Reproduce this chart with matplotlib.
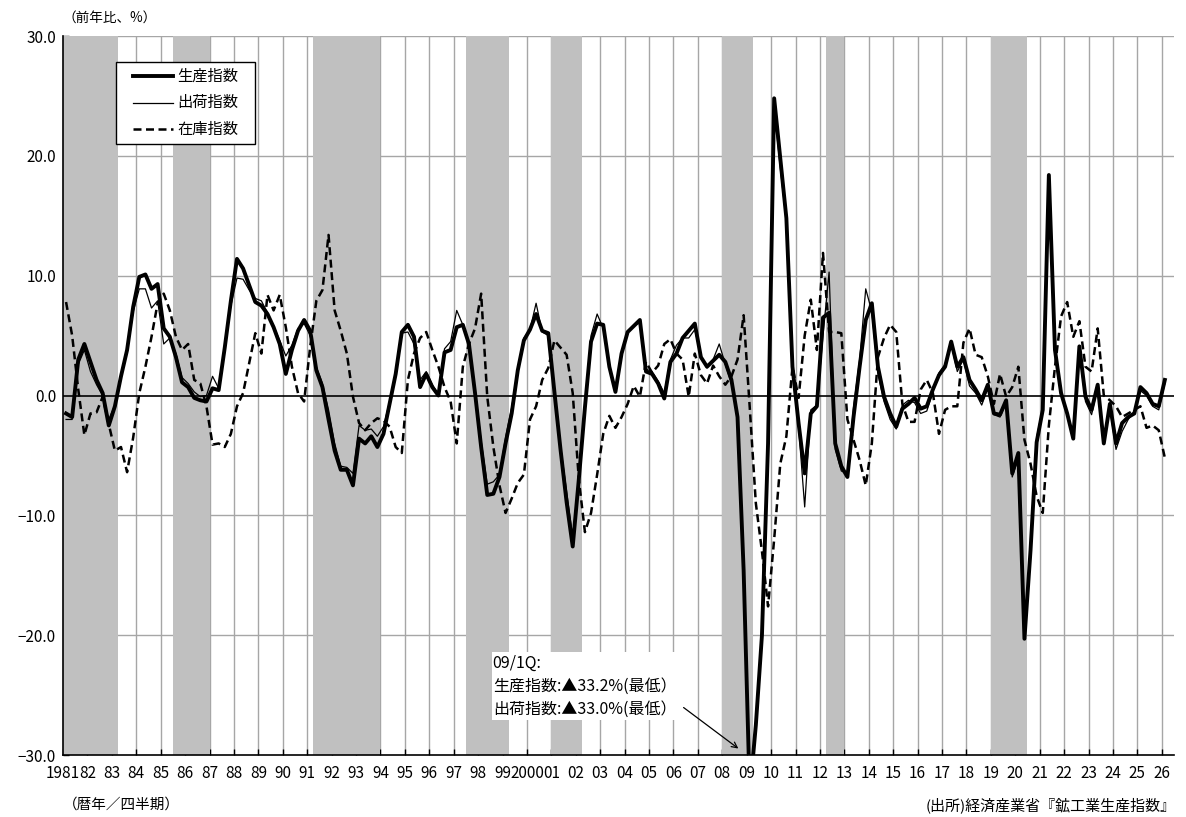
import numpy as np
import matplotlib
matplotlib.use("Agg")
import matplotlib.pyplot as plt
from matplotlib.lines import Line2D
from matplotlib.patches import Rectangle

plt.rcParams['font.family'] = ['Noto Sans CJK JP', 'DejaVu Sans']

# 前年比(%) 四半期 1981/1Q ～ 2026/1Q
prod = [-1.5, -1.8, 3.0, 4.3, 2.8, 1.3, 0.2, -2.5, -0.9, 1.6, 3.8, 7.4, 9.9, 10.1, 8.9, 9.3,
        5.6, 4.9, 3.2, 1.1, 0.7, -0.2, -0.4, -0.5, 0.6, 0.45, 4.0, 7.9, 11.4, 10.6, 9.2, 7.8,
        7.5, 6.8, 5.7, 4.3, 1.8, 3.8, 5.4, 6.3, 5.4, 2.1, 0.7, -2.0, -4.6, -6.2, -6.2, -7.5,
        -3.6, -4.0, -3.4, -4.3, -3.2, -0.7, 1.8, 5.3, 5.9, 4.9, 0.7, 1.8, 0.7, 0.0, 3.6, 3.8,
        5.7, 5.9, 4.3, 0.2, -4.3, -8.3, -8.2, -6.8, -4.0, -1.5, 2.1, 4.6, 5.5, 6.8, 5.4, 5.2,
        0.3, -4.5, -8.9, -12.6, -7.0, -1.0, 4.5, 6.0, 5.9, 2.4, 0.3, 3.5, 5.3, 5.8, 6.3, 2.0,
        1.8, 1.0, -0.25, 2.8, 3.5, 4.8, 5.4, 6.0, 3.2, 2.4, 2.9, 3.4, 2.8, 1.3, -1.8, -14.6,
        -33.2, -27.5, -20.0, -4.0, 24.8, 19.8, 14.8, 2.4, -2.3, -6.5, -1.5, -0.9, 6.5, 6.9, -4.0, -5.9,
        -6.8, -1.8, 2.4, 6.3, 7.7, 2.4, -0.1, -1.5, -2.6, -1.1, -0.7, -0.2, -1.1, -0.9, 0.5, 1.7,
        2.4, 4.5, 2.4, 3.2, 1.3, 0.5, -0.4, 0.9, -1.5, -1.6, -0.4, -6.5, -4.8, -20.3, -12.9, -3.9,
        -1.2, 18.4, 3.8, 0.2, -1.5, -3.6, 4.1, -0.1, -1.2, 0.9, -4.0, -0.7, -4.0, -2.3, -1.8, -1.5,
        0.7, 0.2, -0.7, -0.9, 1.3]

ship = [-2.0, -2.0, 2.6, 3.8, 2.0, 0.9, 0.0, -2.0, -0.8, 1.5, 3.6, 7.0, 8.9, 8.9, 7.3, 7.9,
        4.3, 4.8, 3.5, 1.5, 1.0, 0.3, -0.1, 0.0, 1.6, 0.6, 4.0, 7.5, 9.8, 9.7, 8.8, 8.1,
        7.9, 6.9, 5.8, 4.6, 3.3, 4.2, 5.6, 6.0, 5.0, 2.4, 1.0, -1.2, -4.0, -5.9, -6.0, -6.5,
        -2.5, -2.9, -2.8, -3.4, -2.6, -0.5, 2.0, 5.2, 5.3, 4.3, 1.3, 2.0, 0.9, 0.1, 3.9, 4.5,
        7.1, 5.9, 4.3, 0.5, -3.8, -7.4, -7.2, -6.6, -3.5, -1.0, 2.2, 4.8, 5.5, 7.7, 5.3, 5.0,
        0.5, -4.2, -8.0, -11.8, -7.0, -1.0, 5.0, 6.8, 5.6, 2.4, 0.6, 3.6, 5.3, 5.8, 6.1, 2.2,
        2.0, 1.2, 0.2, 3.0, 4.2, 4.8, 4.8, 5.5, 3.3, 2.3, 3.0, 4.3, 2.6, 1.0, -1.9, -14.4,
        -33.0, -27.0, -19.5, -4.5, 24.0, 19.0, 14.5, 2.6, -2.6, -9.3, -1.2, -0.8, 5.0, 10.3, -4.5, -6.3,
        -6.5, -1.0, 3.0, 8.9, 7.0, 1.8, -0.5, -2.0, -2.8, -0.8, -0.4, -0.6, -1.5, -1.3, 0.3, 1.9,
        2.6, 4.3, 2.0, 3.0, 0.8, 0.2, -0.8, 0.6, -1.6, -1.8, -0.6, -6.8, -5.2, -19.7, -12.5, -3.5,
        -1.0, 17.5, 3.6, 0.0, -1.6, -3.3, 3.6, -0.5, -1.6, 0.7, -3.8, -1.1, -4.5, -3.0, -2.0, -1.3,
        0.4, 0.0, -0.9, -1.2, 1.0]

inv = [7.8, 5.0, 0.5, -3.3, -1.5, -1.4, -0.1, -2.4, -4.6, -4.3, -6.4, -3.5, 0.2, 2.4, 4.9, 7.7,
       8.5, 7.1, 4.9, 3.8, 4.3, 1.3, 1.0, -0.9, -4.1, -4.0, -4.3, -3.2, -0.9, 0.2, 2.7, 5.2,
       3.5, 8.4, 7.1, 8.4, 5.7, 2.4, 0.2, -0.5, 4.1, 7.9, 8.8, 13.4, 7.1, 5.4, 3.5, -0.1,
       -2.3, -2.9, -2.3, -1.9, -2.1, -2.6, -4.3, -4.8, 1.3, 3.5, 4.8, 5.3, 3.8, 2.4, 0.7, -0.5,
       -4.0, 2.4, 4.3, 5.6, 8.5, -0.1, -4.3, -7.5, -9.8, -8.6, -7.3, -6.6, -2.0, -0.9, 1.3, 2.3,
       4.6, 4.0, 3.4, 0.2, -7.0, -11.4, -9.8, -6.6, -3.2, -1.7, -2.7, -1.8, -0.7, 0.8, -0.1, 2.8,
       1.9, 2.5, 4.3, 4.7, 3.5, 3.0, -0.1, 3.5, 1.7, 1.0, 2.5, 1.6, 0.9, 1.6, 3.0, 6.7,
       -1.0, -9.0, -13.0, -17.6, -12.0, -5.7, -3.4, 2.4, -0.2, 5.0, 8.0, 3.8, 11.9, 5.3, 5.3, 5.2,
       -2.0, -3.7, -5.4, -7.5, -4.0, 3.2, 4.8, 5.9, 5.3, -0.7, -2.2, -2.2, 0.5, 1.3, 0.2, -3.2,
       -1.2, -0.9, -0.9, 4.4, 5.6, 3.4, 3.2, 1.6, -0.7, 1.8, -0.1, 0.7, 2.4, -3.7, -5.7, -8.4,
       -9.8, -2.5, 2.4, 6.6, 7.8, 4.9, 6.2, 2.4, 2.0, 5.6, 0.0, -0.4, -0.9, -1.8, -1.5, -1.2,
       -0.9, -2.7, -2.5, -2.9, -5.2]

# 景気後退期 (四半期の通し番号, 開始・終了)
recessions = [(0, 8), (18, 23), (41, 51), (66, 72), (80, 84), (108, 112), (125, 127), (152, 157)]

years = list(range(1981, 2027))
year_labels = [str(y) if y in (1981, 2000) else str(y)[2:] for y in years]

series_names = ['生産指数', '出荷指数', '在庫指数']

q = np.arange(len(prod))

fig = plt.figure(figsize=(11.86, 8.17), dpi=100)
ax = fig.add_axes([63 / 1186, 1 - 755 / 817, (1174 - 63) / 1186, (755 - 36) / 817])

ax.set_xlim(-0.5, 181.5)
ax.set_ylim(-30, 30)

grid_c = '#a6a6a6'
for k in range(len(years)):
    ax.axvline(4 * k - 0.5, color=grid_c, lw=1.0, zorder=1)
for v in (-20, -10, 10, 20, 30):
    ax.axhline(v, color=grid_c, lw=1.0, zorder=1)

for a, b in recessions:
    ax.axvspan(a - 0.5, b + 0.5, color='#c0c0c0', lw=0, zorder=2)

ax.axhline(0, color='black', lw=1.2, zorder=3)

dash = (0, (3.2, 1.8))
styles = [dict(lw=2.8), dict(lw=0.9), dict(lw=1.8, ls=dash)]
ax.plot(q, inv, color='black', zorder=4, **styles[2])
ax.plot(q, ship, color='black', zorder=5, **styles[1])
ax.plot(q, prod, color='black', zorder=6, **styles[0])

yt = np.arange(-30, 31, 10)
ax.set_yticks(yt)
ax.set_yticklabels([f'{v:.1f}'.replace('-', '−') for v in yt], fontsize=11)
ax.set_xticks([4 * k - 0.5 for k in range(len(years))])
ax.set_xticklabels(year_labels, fontsize=11)
ax.tick_params(axis='both', direction='in', length=4, width=1, colors='black')
ax.tick_params(axis='y', pad=5)
ax.tick_params(axis='x', pad=7)

for s in ('top', 'right'):
    ax.spines[s].set_visible(False)
for s in ('left', 'bottom'):
    ax.spines[s].set_color('black')
    ax.spines[s].set_linewidth(1.2)
    ax.spines[s].set_zorder(7)


# 凡例 (枠・線・文字を個別に配置)
def fx(px):
    return (px - 63) / 1111


def fy(py):
    return (755 - py) / 719


ax.add_patch(Rectangle((fx(115.5), fy(144)), fx(255) - fx(115.5), fy(62) - fy(144),
                       transform=ax.transAxes, facecolor='white', edgecolor='black',
                       lw=1.0, zorder=10))
for row, (name, st) in enumerate(zip(series_names, styles)):
    py = 76 + row * 26.5
    ax.add_line(Line2D([fx(133), fx(173)], [fy(py), fy(py)], color='black',
                       transform=ax.transAxes, zorder=11, **st))
    ax.text(fx(177), fy(py), name, transform=ax.transAxes, fontsize=11,
            va='center', ha='left', zorder=11)

# 注記 (白地の枠 + 文字 + 矢印)
ax.add_patch(Rectangle((69.7, -27.1), 103.3 - 69.7, 5.7, facecolor='white',
                       edgecolor='none', zorder=8))
ax.text(69.9, -24.25, '09/1Q:\n生産指数:▲33.2%(最低）\n出荷指数:▲33.0%(最低）',
        fontsize=11.5, va='center', ha='left', linespacing=1.45, zorder=9)
ax.annotate('', xy=(110.5, -29.6), xytext=(100.8, -25.9),
            arrowprops=dict(arrowstyle='->', color='black', lw=0.9), zorder=9)

fig.text(63 / 1186, 1 - 18 / 817, '（前年比、%）', fontsize=9.8, va='center', ha='left')
fig.text(63 / 1186, 1 - 805 / 817, '（暦年／四半期）', fontsize=10.5, va='center', ha='left')
fig.text(1176 / 1186, 1 - 805 / 817, '(出所)経済産業省『鉱工業生産指数』', fontsize=10.8,
         va='center', ha='right')

fig.savefig('out.png', dpi=100)
